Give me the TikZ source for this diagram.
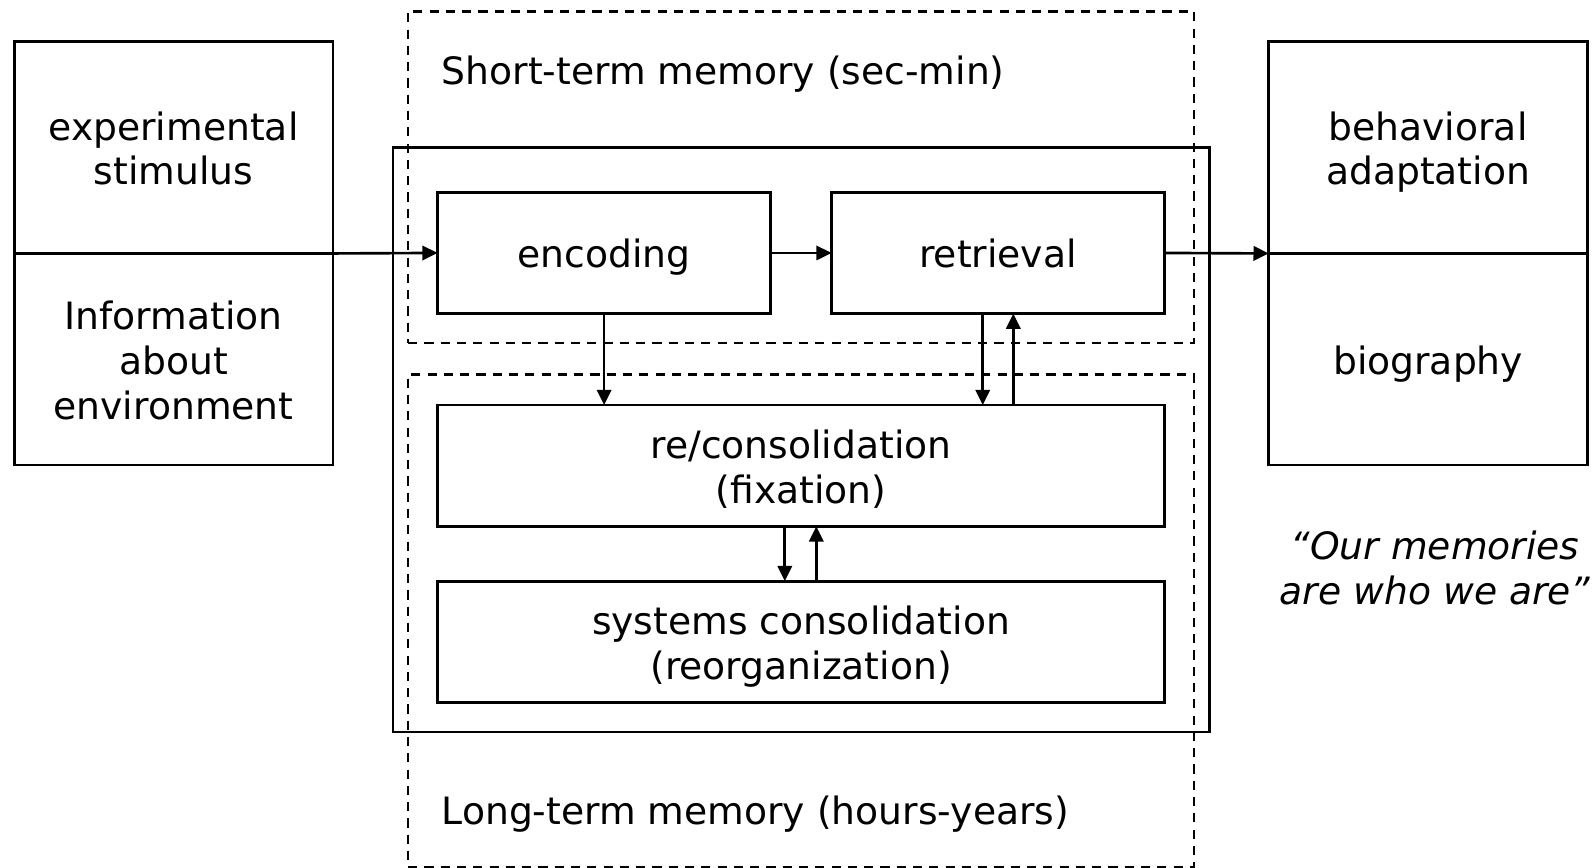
\documentclass[tikz,border=0pt]{standalone}
\usepackage{fontspec}
\setmainfont{DejaVu Sans}
\usepackage{tikz}
\usetikzlibrary{arrows.meta}

\begin{document}
\begin{tikzpicture}[x=0.5pt,y=-0.5pt,line width=1.3pt,
        every node/.style={outer sep=0pt, inner sep=0pt, align=center, font=\fontsize{18.5}{22}\selectfont,
            text height=19.2pt, text depth=4.5pt},
        two lines/.style={text height=41.2pt},
        three lines/.style={text height=63.2pt},
        half/.style={draw, minimum width=156.5pt, minimum height=104pt},
        stage/.style={draw, minimum width=#1, minimum height=59.5pt},
        zone/.style={draw, dash pattern=on 4.5pt off 3.5pt, minimum width=386pt},
        arr/.style={-{Triangle[length=7.5pt,width=7pt]}}]
            \useasboundingbox (0,0) rectangle (1568,852.5);
            % memory zones
            \node[zone, minimum height=163pt] (stm) at (787,174) {};
            \node[zone, minimum height=242pt] (ltm) at (787,610) {};
            \node[draw, minimum width=401pt, minimum height=287pt] (core) at (787,432) {};
            \node[anchor=west] (stmlabel) at (434,68) {Short-term memory (sec-min)};
            \node[anchor=west] (ltmlabel) at (434,795) {Long-term memory (hours-years)};
            % input and output
            \node[half, two lines] (stim) at (170.5,145) {experimental\\stimulus};
            \node[half, three lines] (env) at (170.5,353) {Information\\about\\environment};
            \node[half, two lines] (adapt) at (1403,145) {behavioral\\adaptation};
            \node[half] (bio) at (1403,353) {biography};
            \node[two lines] (quote) at (1410,557) {\itshape “Our memories\\\itshape are who we are”};
            % stages
            \node[stage=163.5pt] (encoding) at (593.5,248.5) {encoding};
            \node[stage=163.5pt] (retrieval) at (980.5,248.5) {retrieval};
            \node[stage=357pt, two lines] (recons) at (787,457.5) {re/consolidation\\(fixation)};
            \node[stage=357pt, two lines] (syscons) at (787,630.5) {systems consolidation\\(reorganization)};
            % connectors
            \draw[arr] (stim.south east) -- (encoding.west);
            \draw[arr] (encoding.east) -- (retrieval.west);
            \draw[arr] (retrieval.east) -- (adapt.south west);
            \draw[arr] (encoding.south) -- (encoding.south |- recons.north);
            \draw[arr] ([xshift=-7.5pt]retrieval.south) -- ([xshift=-7.5pt]retrieval.south |- recons.north);
            \draw[arr] ([xshift=7.5pt]retrieval.south |- recons.north) -- ([xshift=7.5pt]retrieval.south);
            \draw[arr] ([xshift=-8pt]recons.south) -- ([xshift=-8pt]recons.south |- syscons.north);
            \draw[arr] ([xshift=7.5pt]recons.south |- syscons.north) -- ([xshift=7.5pt]recons.south);
        \end{tikzpicture}
\end{document}
